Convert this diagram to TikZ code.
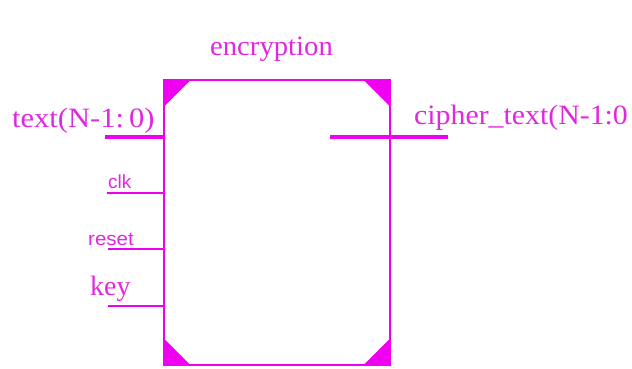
\documentclass[tikz,border=0pt]{standalone}
\usepackage{fontspec}
\usepackage{graphicx}
\setmainfont{Liberation Serif}
\setsansfont{Liberation Sans}
\definecolor{mag}{RGB}{240,0,240}
\definecolor{magtxt}{RGB}{225,40,225}
\begin{document}
\begin{tikzpicture}[x=1pt,y=-1pt,
  lbl/.style={text=magtxt,inner sep=0pt,font=\fontsize{28}{30}\selectfont},
  slbl/.style={text=magtxt,inner sep=0pt,font=\sffamily\fontsize{19}{21}\selectfont},
  bus/.style={draw=mag,line width=4pt},
  wire/.style={draw=mag,line width=1.5pt},
  corner/.style={fill=mag}]
\useasboundingbox (0,0) rectangle (632,369);
\fill[white] (0,0) rectangle (632,369);
\node[draw=mag,line width=1.5pt,minimum width=226pt,minimum height=285pt,inner sep=0pt] (enc) at (277,222.5) {};
% corner triangles
\fill[corner] (enc.north west) -- ++(28,0) -- ++(-28,28) -- cycle;
\fill[corner] (enc.north east) -- ++(-28,0) -- ++(28,28) -- cycle;
\fill[corner] (enc.south west) -- ++(28,0) -- ++(-28,-28) -- cycle;
\fill[corner] (enc.south east) -- ++(-28,0) -- ++(28,-28) -- cycle;
% labels
\node[lbl,anchor=base] (title) at (271.5,56) {\scalebox{1.025}[1]{encryption}};
\node[lbl,anchor=base west] (tin) at (12,128) {\scalebox{1.09}[1]{text(N-1:\,0)}};
\node[lbl,anchor=base west] (tout) at (414,124) {\scalebox{1.065}[1]{cipher\_text(N-1:0}};
\node[slbl,anchor=base west] (clk) at (108,188) {clk};
\node[slbl,anchor=base west] (rst) at (88,245) {\scalebox{1.08}[1]{reset}};
\node[lbl,anchor=base west] (key) at (90,295) {key};
% port coordinates
\coordinate (pin) at (105,137);
\coordinate (pout) at (448,137);
\coordinate (pclk) at (107,193);
\coordinate (prst) at (108,249);
\coordinate (pkey) at (108,306);
\draw[bus] (pin) -- (pin -| enc.west);
\draw[bus] (pout) -- (pout -| 330,0);
\draw[wire] (pclk) -- (pclk -| enc.west);
\draw[wire] (prst) -- (prst -| enc.west);
\draw[wire] (pkey) -- (pkey -| enc.west);
\end{tikzpicture}
\end{document}
